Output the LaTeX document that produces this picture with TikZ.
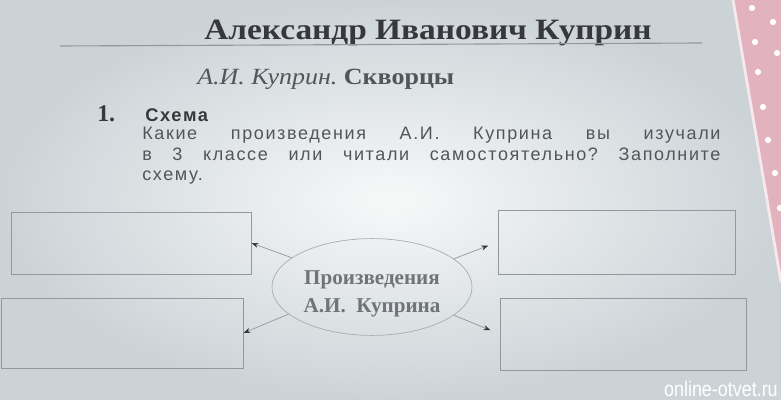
\documentclass[tikz,border=0pt]{standalone}
\usepackage{fontspec}
\setmainfont{Liberation Serif}
\newfontfamily\tasksans[LetterSpace=9]{Liberation Sans}
\newfontfamily\headsans{Liberation Sans}
\usetikzlibrary{arrows.meta, shapes.geometric}
\frenchspacing

\definecolor{pagegray}{RGB}{204,211,215}
\definecolor{pagelight}{RGB}{247,249,249}
\definecolor{inkdark}{RGB}{54,56,60}
\definecolor{inkgray}{RGB}{82,86,90}
\definecolor{linegray}{RGB}{146,152,156}
\definecolor{ovalink}{RGB}{112,116,120}
\definecolor{coverpink}{RGB}{226,178,190}

\begin{document}
\begin{tikzpicture}[x=0.025cm, y=-0.025cm,
    answer/.style={rectangle, draw=linegray, line width=0.6pt, inner sep=0pt},
    oval/.style={ellipse, draw=linegray!80, line width=0.5pt, inner sep=0pt, minimum width=5cm, minimum height=2.42cm, text=ovalink, align=center, font=\bfseries\fontsize{15}{20}\selectfont},
    arrow/.style={-{Stealth[length=5pt, width=3.6pt, color=inkdark]}, draw=linegray, line width=0.5pt},
    label/.style={inner sep=0pt, anchor=base west}
]
\useasboundingbox (0,0) rectangle (781,400);
% page and cover
\shade[inner color=pagelight, outer color=pagegray] (0,0) rectangle (781,400);
\fill[coverpink] (733,0) -- (781,0) -- (781,282) -- cycle;
\draw[white!70!coverpink, line width=2pt] (733,0) -- (781,282);
\foreach \px/\py in {752/8, 773/22, 755/42, 777/53, 758/72, 763/107, 768/140, 775/173, 780/208}
  \fill[white] (\px,\py) circle (2.2pt);

% heading
\node[anchor=base, inner sep=0pt, text=inkdark, font=\bfseries\fontsize{21}{24}\selectfont] (title) at (428,40) {\scalebox{1.13}[1]{Александр Иванович Куприн}};
\draw[linegray, line width=0.8pt] (60,46) -- (702,43);
\node[label, text=inkgray, font=\fontsize{16.5}{19}\selectfont] (story) at (197,85) {\scalebox{1.12}[1]{\textit{А.И. Куприн.} \textbf{Скворцы}}};
\node[label, text=inkdark, font=\bfseries\fontsize{17}{20}\selectfont] (num) at (97,122) {1.};
\node[label, text=inkdark, font=\tasksans\bfseries\fontsize{13}{15}\selectfont] (scheme) at (145,122) {Схема};
\node[label, text width=14.45cm, align=justify, text=inkgray, font=\tasksans\fontsize{12.8}{14.4}\selectfont] (task) at (142,140)
  {Какие произведения А.И. Куприна вы изучали\linebreak в 3 классе или читали самостоятельно? Заполните\linebreak схему.};

% scheme
\node[oval] (works) at (372,287) {\rule{0pt}{19pt}Произведения\\А.И.\ \ Куприна};
\node[answer, minimum width=6cm, minimum height=1.55cm] (upleft) at (131,243) {};
\node[answer, minimum width=6.05cm, minimum height=1.75cm] (lowleft) at (122,333) {};
\node[answer, minimum width=5.925cm, minimum height=1.6cm] (upright) at (616.5,242) {};
\node[answer, minimum width=6.15cm, minimum height=1.8cm] (lowright) at (623,334) {};

\draw[arrow] (works.160) -- (upleft.east);
\draw[arrow, shorten >=7pt] (works.19) -- (upright.west);
\draw[arrow] (works.198) -- (lowleft.east);
\draw[arrow, shorten >=7pt] (works.341) -- (lowright.west);

\node[anchor=base east, inner sep=0pt, text=white, font=\headsans\fontsize{15}{18}\selectfont] (mark) at (778,396) {\scalebox{0.85}[1]{online-otvet.ru}};
\end{tikzpicture}
\end{document}
